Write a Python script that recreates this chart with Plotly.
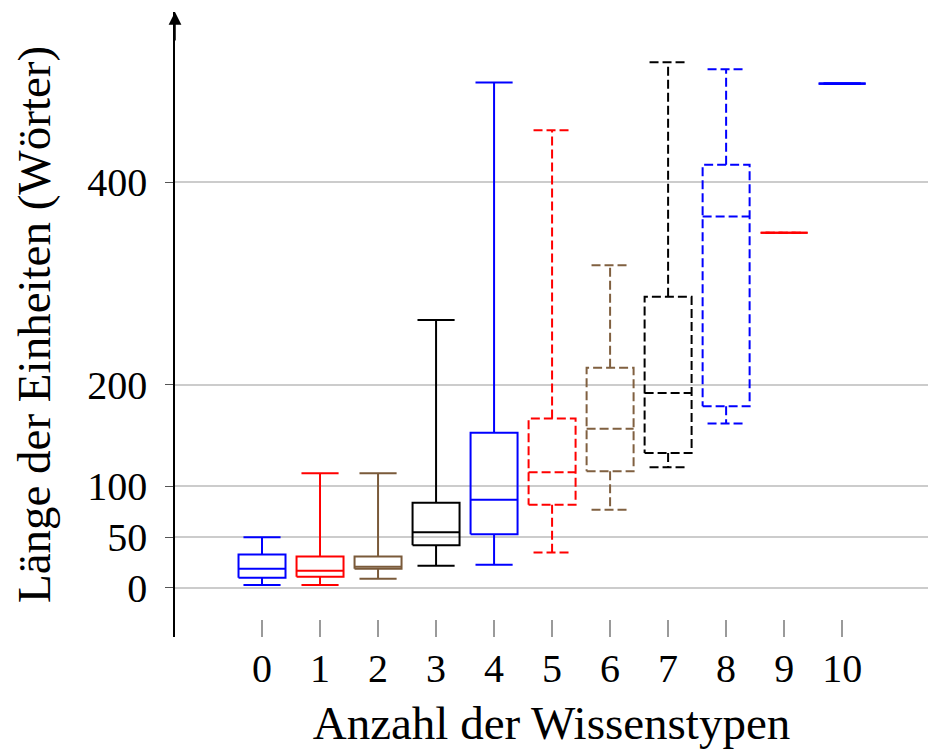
import plotly.graph_objects as go

# ---- data ----
categories = [0, 1, 2, 3, 4, 5, 6, 7, 8, 9, 10]
lower_whisker = [3, 3, 9, 22, 23, 35, 77, 119, 162, 350, 497]
q1_values = [10, 11, 19, 42, 53, 82, 115, 133, 179, 350, 497]
median_values = [19, 17, 21, 55, 87, 114, 157, 192, 366, 350, 497]
q3_values = [33, 31, 31, 84, 153, 167, 217, 287, 417, 350, 497]
upper_whisker = [50, 113, 113, 264, 498, 451, 318, 518, 511, 350, 497]
box_colors = ["#0000ff", "#ff0000", "#7a5a3a", "#000000", "#0000ff",
              "#ff0000", "#806040", "#000000", "#0000ff", "#ff0000", "#0000ff"]
box_dashed = [False, False, False, False, False, True, True, True, True, True, False]
y_tick_values = [0, 50, 100, 200, 400]
x_tick_labels = [str(c) for c in categories]

BOX_W = 0.81
CAP_W = 0.64
FONT = "Liberation Serif"

fig = go.Figure()

for i, c in enumerate(categories):
    lo, a, m, b, hi = lower_whisker[i], q1_values[i], median_values[i], q3_values[i], upper_whisker[i]
    hw, cw = BOX_W / 2, CAP_W / 2
    xs = [c - hw, c + hw, c + hw, c - hw, c - hw, None,
          c - hw, c + hw, None,
          c, c, None, c - cw, c + cw, None,
          c, c, None, c - cw, c + cw]
    ys = [a, a, b, b, a, None,
          m, m, None,
          b, hi, None, hi, hi, None,
          a, lo, None, lo, lo]
    fig.add_trace(go.Scatter(
        x=xs, y=ys, mode="lines",
        line=dict(color=box_colors[i], width=2.2 if i == 10 else 2,
                  dash="9px,4px" if box_dashed[i] else "solid"),
        hoverinfo="skip", showlegend=False, cliponaxis=False))

Y_MIN, Y_MAX = -48.3, 567.5

fig.add_annotation(x=-1.5, y=Y_MAX, xref="x", yref="y", ax=0, ay=30,
                   showarrow=True, arrowhead=2, arrowsize=1.7, arrowwidth=1.5,
                   arrowcolor="black", text="")

fig.update_layout(
    width=928, height=755,
    margin=dict(l=175, r=0, t=12, b=118),
    plot_bgcolor="white", paper_bgcolor="white",
    font=dict(family=FONT, color="black", size=40),
    xaxis=dict(
        range=[-1.5, 11.48], tickvals=categories, ticktext=x_tick_labels,
        showgrid=False, zeroline=False, showline=False,
        ticks="inside", ticklen=17, tickwidth=1.5, tickcolor="#9a9a9a",
        ticklabelstandoff=4,
        tickfont=dict(family=FONT, size=40),
        title=dict(text="Anzahl der Wissenstypen", font=dict(family=FONT, size=47), standoff=16),
    ),
    yaxis=dict(
        range=[Y_MIN, Y_MAX], tickvals=y_tick_values,
        showgrid=True, gridcolor="#cccccc", gridwidth=2,
        zeroline=False, showline=True, linecolor="black", linewidth=1.5,
        ticks="outside", ticklen=8, tickwidth=1.2, tickcolor="#555555",
        ticklabelstandoff=10,
        tickfont=dict(family=FONT, size=40),
        title=dict(text="Länge der Einheiten (Wörter)", font=dict(family=FONT, size=47), standoff=22),
    ),
)

fig.write_html("out.html")
